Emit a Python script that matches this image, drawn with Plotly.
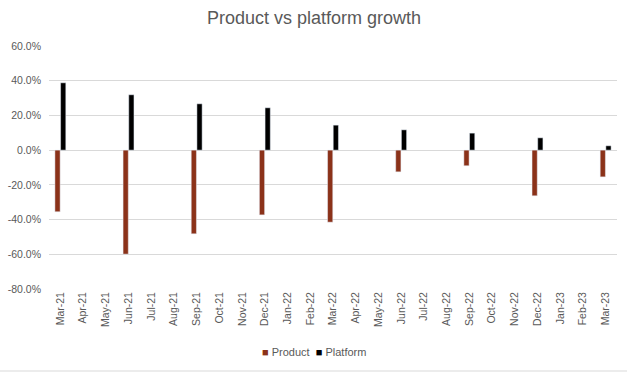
import plotly.graph_objects as go

months = ["Mar-21", "Apr-21", "May-21", "Jun-21", "Jul-21", "Aug-21", "Sep-21", "Oct-21",
          "Nov-21", "Dec-21", "Jan-22", "Feb-22", "Mar-22", "Apr-22", "May-22", "Jun-22",
          "Jul-22", "Aug-22", "Sep-22", "Oct-22", "Nov-22", "Dec-22", "Jan-23", "Feb-23", "Mar-23"]
quarters = ["Mar-21", "Jun-21", "Sep-21", "Dec-21", "Mar-22", "Jun-22", "Sep-22", "Dec-22", "Mar-23"]
product = [-0.355, -0.599, -0.482, -0.373, -0.415, -0.125, -0.090, -0.263, -0.154]
platform = [0.388, 0.319, 0.267, 0.244, 0.144, 0.117, 0.098, 0.071, 0.025]

y_tick_vals = [-0.8, -0.6, -0.4, -0.2, 0.0, 0.2, 0.4, 0.6]
y_tick_text = ["-80.0%", "-60.0%", "-40.0%", "-20.0%", "0.0%", "20.0%", "40.0%", "60.0%"]

series_names = ["Product", "Platform"]
series_colors = ["#8B3219", "#000000"]

font_fam = "Liberation Sans, Arial, sans-serif"
gray = "#595959"

W, H = 627, 374
L, R, T, B = 49, 10, 46, 85
PW, PH = W - L - R, H - T - B

fig = go.Figure()
fig.add_trace(go.Bar(x=quarters, y=product, name=series_names[0],
                     marker_color=series_colors[0], showlegend=False))
fig.add_trace(go.Bar(x=quarters, y=platform, name=series_names[1],
                     marker_color=series_colors[1], showlegend=False))

legend_text = "  ".join(
    f'<span style="color:{c}">■</span> {n}' for n, c in zip(series_names, series_colors)
)

fig.update_layout(
    width=W, height=H,
    margin=dict(l=L, r=R, t=T, b=B, autoexpand=False),
    paper_bgcolor="white", plot_bgcolor="white",
    barmode="group", bargap=0.5, bargroupgap=0.08,
    showlegend=False,
    title=dict(text="Product vs platform growth", x=(314 - L) / PW, xref="paper",
               xanchor="center", y=1 - 18 / H, yanchor="middle",
               font=dict(family=font_fam, size=18, color=gray)),
    annotations=[dict(text=legend_text, xref="paper", yref="paper",
                      x=(314 - L) / PW, xanchor="center",
                      y=-63 / PH, yanchor="middle", showarrow=False,
                      font=dict(family=font_fam, size=11, color=gray))],
    shapes=[dict(type="line", xref="paper", yref="paper", x0=-L / PW, x1=1 + R / PW,
                 y0=-82 / PH, y1=-82 / PH,
                 line=dict(color="#D9D9D9", width=1))],
)
fig.update_xaxes(type="category", categoryorder="array", categoryarray=months,
                 tickmode="array", tickvals=months, ticktext=months,
                 range=[-0.5, 24.5], tickangle=-90, showgrid=False,
                 showline=False, ticks="", automargin=False,
                 tickfont=dict(family=font_fam, size=10.5, color=gray))
fig.update_yaxes(range=[-0.8, 0.6], tickmode="array", tickvals=y_tick_vals,
                 ticktext=y_tick_text,
                 showgrid=True, gridcolor="#D9D9D9", gridwidth=1,
                 zeroline=True, zerolinecolor="#D9D9D9", zerolinewidth=1,
                 ticks="", ticklabelstandoff=7, automargin=False,
                 tickfont=dict(family=font_fam, size=10.5, color=gray))

fig.write_html("out.html", config={"displayModeBar": False},
               post_script="document.body.style.margin='0';")
